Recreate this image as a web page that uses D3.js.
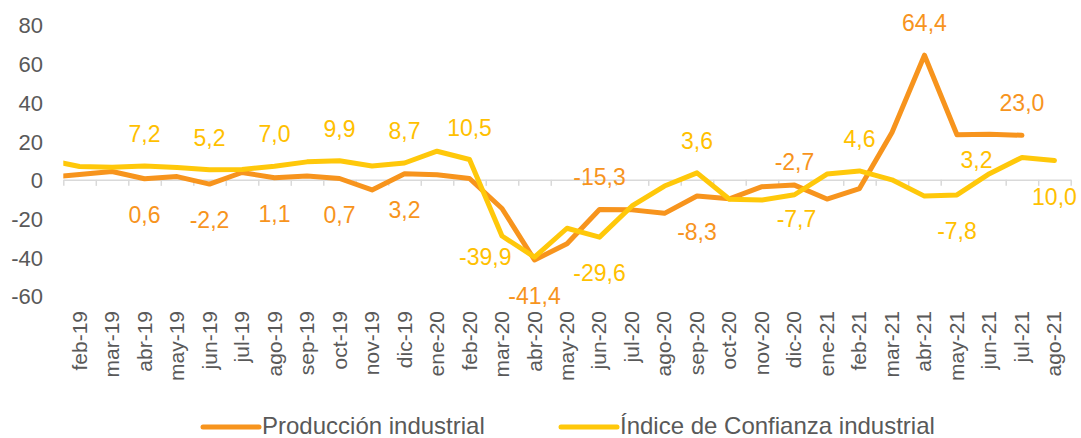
<!DOCTYPE html>
<html>
<head>
<meta charset="utf-8">
<script src="https://cdn.jsdelivr.net/npm/d3@7"></script>
<style>
  body { margin: 0; background: #fff; }
  svg text { font-family: "Liberation Sans", Arial, sans-serif; }
</style>
</head>
<body>
<div id="chart"></div>
<script>
// months shown on the axis
var months = ["feb-19","mar-19","abr-19","may-19","jun-19","jul-19","ago-19","sep-19","oct-19","nov-19","dic-19",
  "ene-20","feb-20","mar-20","abr-20","may-20","jun-20","jul-20","ago-20","sep-20","oct-20","nov-20","dic-20",
  "ene-21","feb-21","mar-21","abr-21","may-21","jun-21","jul-21","ago-21"];

// the series start one month earlier (ene-19), cut off by the plot edge
var produccionPrev = 1.3,
    confianzaPrev = 10.3;

var produccion = [2.8, 4.3, 0.6, 1.7, -2.2, 3.8, 1.1, 2.0, 0.7, -5.2, 3.2,
  2.6, 0.7, -14.8, -41.4, -33.0, -15.3, -15.5, -17.3, -8.3, -9.8, -3.5, -2.7,
  -9.9, -4.5, 24.5, 64.4, 23.3, 23.6, 23.0, null];

var confianza = [6.9, 6.5, 7.2, 6.4, 5.2, 5.4, 7.0, 9.3, 9.9, 7.2, 8.7,
  14.8, 10.5, -29.0, -39.9, -25.0, -29.6, -13.5, -3.2, 3.6, -10.0, -10.4, -7.7,
  3.0, 4.6, 0.0, -8.4, -7.8, 3.2, 11.6, 10.0];

var yTicks = [-60, -40, -20, 0, 20, 40, 60, 80];

var seriesNames = ["Producción industrial", "Índice de Confianza industrial"];

// which points carry a value label
var produccionLabeled = [2, 4, 6, 8, 10, 14, 16, 19, 22, 26, 29];
var confianzaLabeled = [2, 4, 6, 8, 10, 12, 14, 16, 19, 22, 24, 27, 28, 30];

var colors = ["#F7941D", "#FFC80A"],
    labelColors = ["#F7941D", "#FFC000"];

// label placement per point (kept apart from the data)
var placeProd = {16: "above", 22: "above2", 26: "above", 29: "above"};
var placeConf = {14: "left", 16: "below", 22: "below2", 27: "below", 28: "upleft", 30: "below"};

var width = 1081, height = 438,
    plotLeft = 63.3, plotRight = 1070.7, plotTop = 25, plotBottom = 296;

var svg = d3.select("#chart").append("svg")
    .attr("width", width)
    .attr("height", height);

var y = d3.scaleLinear().domain([-60, 80]).range([plotBottom, plotTop]);
// x by month index, points centred between tick marks
var x = d3.scaleLinear().domain([-0.5, months.length - 0.5]).range([plotLeft, plotRight]);

var esLocale = d3.formatLocale({decimal: ",", thousands: ".", grouping: [3], currency: ["", "€"], minus: "-"});
var fmt = esLocale.format(".1f");

// y axis labels
var yAxis = svg.append("g")
    .attr("transform", "translate(43,0)")
    .call(d3.axisLeft(y).tickValues(yTicks).tickSize(0).tickPadding(0).tickFormat(esLocale.format("d")));
yAxis.select(".domain").remove();
yAxis.selectAll("text")
    .attr("fill", "#595959")
    .style("font-size", "22px")
    .attr("dy", "0.36em");

// category axis on zero, ticks between categories
var xb = d3.scaleLinear().domain([0, months.length]).range([plotLeft, plotRight]);
var xAxis = svg.append("g")
    .attr("transform", "translate(0," + y(0) + ")")
    .call(d3.axisBottom(xb).tickValues(d3.range(months.length + 1)).tickSize(6).tickSizeOuter(0).tickFormat(""));
xAxis.select(".domain").attr("stroke", "#D9D9D9").attr("stroke-width", 1.5);
xAxis.selectAll(".tick line").attr("stroke", "#D9D9D9").attr("stroke-width", 1.5);

// month labels, rotated, below the plot
svg.append("g").selectAll("text")
    .data(months)
    .enter().append("text")
    .attr("transform", function(d, i) { return "translate(" + (x(i) + 7) + ",311) rotate(-90)"; })
    .attr("text-anchor", "end")
    .attr("fill", "#595959")
    .style("font-size", "21px")
    .text(function(d) { return d; });

// lines
svg.append("clipPath").attr("id", "plotclip")
  .append("rect").attr("x", plotLeft).attr("y", 0).attr("width", plotRight - plotLeft).attr("height", height);

var line = d3.line()
    .defined(function(d) { return d.v != null; })
    .x(function(d) { return x(d.i); })
    .y(function(d) { return y(d.v); });

function toPoints(prev, vals) {
    var pts = [{i: -1, v: prev}];
    vals.forEach(function(v, i) { pts.push({i: i, v: v}); });
    return pts;
}

var lines = svg.append("g").attr("clip-path", "url(#plotclip)");
lines.append("path")
    .datum(toPoints(produccionPrev, produccion))
    .attr("d", line)
    .attr("fill", "none")
    .attr("stroke", colors[0])
    .attr("stroke-width", 5)
    .attr("stroke-linejoin", "round")
    .attr("stroke-linecap", "round");
lines.append("path")
    .datum(toPoints(confianzaPrev, confianza))
    .attr("d", line)
    .attr("fill", "none")
    .attr("stroke", colors[1])
    .attr("stroke-width", 5)
    .attr("stroke-linejoin", "round")
    .attr("stroke-linecap", "round");

// value labels
function offset(pos) {
    switch (pos) {
        case "above":  return {dx: 0, dy: -24, anchor: "middle"};
        case "above2": return {dx: 0, dy: -15, anchor: "middle"};
        case "below2": return {dx: 2, dy: 32, anchor: "middle"};
        case "left":   return {dx: -23, dy: 8, anchor: "end"};
        case "upleft": return {dx: -13, dy: -6, anchor: "middle"};
        case "below":
        default:       return {dx: 0, dy: 44, anchor: "middle"};
    }
}

function addLabels(vals, idx, place, defaultPos, color) {
    svg.append("g").selectAll("text")
        .data(idx)
        .enter().append("text")
        .each(function(i) {
            var o = offset(place[i] || defaultPos);
            d3.select(this)
                .attr("x", x(i) + o.dx)
                .attr("y", y(vals[i]) + o.dy)
                .attr("text-anchor", o.anchor);
        })
        .attr("fill", color)
        .style("font-size", "23px")
        .text(function(i) { return fmt(vals[i]); });
}

addLabels(produccion, produccionLabeled, placeProd, "below", labelColors[0]);
addLabels(confianza, confianzaLabeled, placeConf, "above", labelColors[1]);

// legend
var legend = svg.append("g");
var legendItems = [{x: 203, name: seriesNames[0], c: colors[0]}, {x: 561, name: seriesNames[1], c: colors[1]}];
legendItems.forEach(function(d) {
    legend.append("line")
        .attr("x1", d.x).attr("x2", d.x + 56)
        .attr("y1", 427).attr("y2", 427)
        .attr("stroke", d.c)
        .attr("stroke-width", 5)
        .attr("stroke-linecap", "round");
    legend.append("text")
        .attr("x", d.x + 59)
        .attr("y", 434)
        .attr("fill", "#595959")
        .style("font-size", "24px")
        .text(d.name);
});
</script>
</body>
</html>
